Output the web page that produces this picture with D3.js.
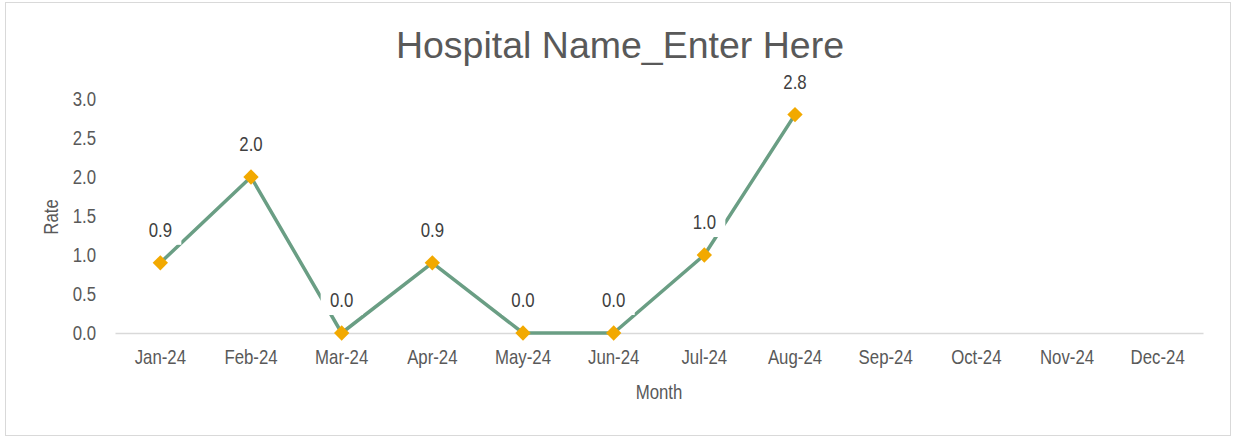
<!DOCTYPE html>
<html>
<head>
<meta charset="utf-8">
<script src="https://cdn.jsdelivr.net/npm/d3@7"></script>
<style>
  body { margin: 0; background: #fff; }
  svg { display: block; font-family: "Liberation Sans", Arial, sans-serif; }
</style>
</head>
<body>
<svg id="chart" width="1238" height="437"></svg>
<script>
// chart data
let months = ["Jan-24", "Feb-24", "Mar-24", "Apr-24", "May-24", "Jun-24",
              "Jul-24", "Aug-24", "Sep-24", "Oct-24", "Nov-24", "Dec-24"];
let rates = [0.9, 2.0, 0.0, 0.9, 0.0, 0.0, 1.0, 2.8, null, null, null, null];
let yTicks = [0, 0.5, 1, 1.5, 2, 2.5, 3];

let svg = d3.select("#chart");
let squeeze = "scale(0.82,1)";   // the small text in the chart is a condensed face

// outer chart border
svg.append("rect")
    .attr("x", 5.5).attr("y", 2.5)
    .attr("width", 1225).attr("height", 433)
    .attr("fill", "#fff")
    .attr("stroke", "#d9d9d9");

// scales
let xScale = d3.scaleBand().domain(months).range([115, 1203]);
let yScale = d3.scaleLinear().domain([0, 3]).range([333, 99]);
let cx = m => xScale(m) + xScale.bandwidth() / 2;

// title
svg.append("text")
    .attr("x", 620).attr("y", 58)
    .attr("text-anchor", "middle")
    .attr("font-size", 37.5)
    .attr("fill", "#595959")
    .text("Hospital Name_Enter Here");

// y axis labels (no axis line)
let yAxis = svg.append("g")
    .attr("transform", "translate(96,0)")
    .call(d3.axisLeft(yScale).tickValues(yTicks).tickFormat(d3.format(".1f")).tickSize(0).tickPadding(0));
yAxis.select(".domain").remove();
yAxis.selectAll("text")
    .attr("transform", squeeze)
    .attr("font-size", 20.5)
    .attr("fill", "#595959");

// x axis
let xAxis = svg.append("g")
    .attr("transform", "translate(0,333)")
    .call(d3.axisBottom(xScale).tickSize(0).tickPadding(16));
xAxis.select(".domain").attr("stroke", "#d9d9d9").attr("stroke-width", 1.5);
xAxis.selectAll("text")
    .attr("transform", squeeze)
    .attr("font-size", 20.5)
    .attr("fill", "#595959");

// axis titles
svg.append("g")
    .attr("transform", "translate(58,217) rotate(-90)")
  .append("text")
    .attr("transform", squeeze)
    .attr("text-anchor", "middle")
    .attr("font-size", 20.5)
    .attr("fill", "#595959")
    .text("Rate");

svg.append("g")
    .attr("transform", "translate(659,399)")
  .append("text")
    .attr("transform", squeeze)
    .attr("text-anchor", "middle")
    .attr("font-size", 20.5)
    .attr("fill", "#595959")
    .text("Month");

// series
let points = months.map((m, i) => ({ m: m, v: rates[i] })).filter(d => d.v !== null);

let line = d3.line()
    .x(d => cx(d.m))
    .y(d => yScale(d.v));

svg.append("path")
    .datum(points)
    .attr("d", line)
    .attr("fill", "none")
    .attr("stroke", "#6a9e84")
    .attr("stroke-width", 3.5)
    .attr("stroke-linejoin", "round");

svg.selectAll(".marker")
    .data(points)
    .enter().append("path")
    .attr("class", "marker")
    .attr("transform", d => "translate(" + cx(d.m) + "," + yScale(d.v) + ")")
    .attr("d", d3.symbol().type(d3.symbolDiamond2).size(150))
    .attr("fill", "#f2a900");

// data labels with white boxes
let labels = svg.selectAll(".lbl")
    .data(points)
    .enter().append("g")
    .attr("class", "lbl")
    .attr("transform", d => "translate(" + cx(d.m) + "," + (yScale(d.v) - 33) + ")");

labels.append("rect")
    .attr("x", -21).attr("y", -15)
    .attr("width", 42).attr("height", 30)
    .attr("fill", "#fff");

labels.append("text")
    .attr("transform", squeeze)
    .attr("text-anchor", "middle")
    .attr("y", 7)
    .attr("font-size", 20.5)
    .attr("fill", "#404040")
    .text(d => d.v.toFixed(1));
</script>
</body>
</html>
